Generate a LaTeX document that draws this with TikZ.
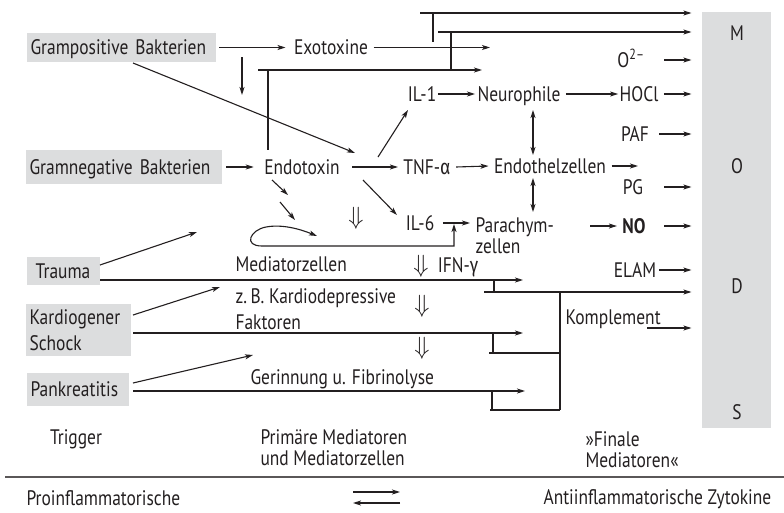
\documentclass[tikz,border=0pt]{standalone}
\usepackage{fontspec}
\setmainfont{PT Sans}[FakeStretch=0.83]
\newfontfamily\grfont{Fira Sans}[FakeStretch=0.83]
\usepackage{xcolor}
\usetikzlibrary{arrows.meta}
\usetikzlibrary{positioning}
\definecolor{boxgray}{HTML}{DCDDDE}
\definecolor{ink}{HTML}{231F20}

\begin{document}
\begin{tikzpicture}[x=1pt, y=-1pt, line width=1.1pt, color=ink,
    every node/.style={font=\fontsize{21}{21}\selectfont, inner xsep=5pt, inner ysep=0pt, text height=14.7pt, text depth=0pt},
    zwei/.style={text height=, text depth=, align=left, anchor=west},
    trigbox/.style={fill=boxgray, anchor=west, inner xsep=4pt, align=left},
    dpf/.style={font=\fontsize{32}{32}\selectfont},
    pfeil/.style={-{Stealth[length=8pt, width=5pt, inset=2pt]}},
    dpfeil/.style={{Stealth[length=8pt, width=5pt, inset=2pt]}-{Stealth[length=8pt, width=5pt, inset=2pt]}},
    zumods/.style={pfeil, shorten >=10pt}]
    \useasboundingbox (0,0) rectangle (784,512);

    \node[fill=boxgray, minimum width=69pt, minimum height=416pt] (mods) at (736.5,220) {};
    \node (mM) at (737,33) {M};
    \node (mO) at (737,166) {O};
    \node (mD) at (737,286) {D};
    \node (mS) at (737,412) {S};

    \node[trigbox, text width=181pt, minimum height=29pt] (gpos) at (26,47.5) {Grampositive Bakterien};
    \node[trigbox, text width=188pt, minimum height=34pt] (gneg) at (25,167) {Gramnegative Bakterien};
    \node[trigbox, text width=65pt, minimum height=28pt, align=center] (trauma) at (26,271) {Trauma};
    \node[trigbox, zwei, text width=97pt, minimum height=52pt, font=\fontsize{21}{26}\selectfont] (kardiog) at (25,330) {Kardiogener\\Schock};
    \node[trigbox, text width=94pt, minimum height=33pt] (pankr) at (26,389.5) {Pankreatitis};

    \node (exo) at (331,47.5) {Exotoxine};
    \node (endo) at (302,167) {Endotoxin};
    \node (tnf) at (427,167) {TNF-{\grfont α}};
    \node (endoth) at (550,166) {Endothelzellen};
    \node (il1) at (422,94) {IL-1};
    \node (neuro) at (519,94) {Neurophile};
    \node (hocl) at (639,94) {HOCl};
    \node (o2) at (631,60) {O\textsuperscript{2–}};
    \node (paf) at (635,134) {PAF};
    \node (pg) at (633,187) {PG};
    \node (il6) at (420,223) {IL-6};
    \node[zwei] (para) at (470,236) {Parachym-\\zellen};
    \node (no) at (634,226) {\textbf{NO}};
    \node (ifn) at (458,265) {IFN-{\grfont γ}};
    \node (elam) at (635,270) {ELAM};
    \node[anchor=west] (mz) at (230,264) {Mediatorzellen};
    \node[zwei, font=\fontsize{21}{26}\selectfont] (kdf) at (230,309) {z.\,B. Kardiodepressive\\Faktoren};
    \node[anchor=west] (gerinn) at (245,377) {Gerinnung u. Fibrinolyse};
    \node[anchor=west] (kompl) at (560,317) {Komplement};
    \node[dpf] (d1) at (356,217) {$\Downarrow$};
    \node[dpf] (d2) at (421,265) {$\Downarrow$};
    \node[dpf] (d3) at (422,305) {$\Downarrow$};
    \node[dpf] (d4) at (422,347) {$\Downarrow$};

    \node (trigger) at (76,437) {Trigger};
    \node[zwei] (prim) at (255,448) {Primäre Mediatoren\\und Mediatorzellen};
    \node[zwei] (final) at (580,450) {»Finale\\Mediatoren«};
    \node[anchor=west] (pro) at (21,498) {Proinflammatorische};
    \node[anchor=west] (anti) at (538,497) {Antiinflammatorische Zytokine};

    \coordinate (exoend) at (490,47.5);
    \coordinate (top1) at (420,13);
    \coordinate (top1a) at (433,13);
    \coordinate (top1b) at (433,42);
    \coordinate (top2) at (438,32);
    \coordinate (top2a) at (451,32);
    \coordinate (top2b) at (451,70);
    \coordinate (endoa) at (258,70);
    \coordinate (endob) at (268,70);
    \coordinate (endoc) at (268,150);
    \coordinate (endoend) at (482,70);
    \coordinate (gdowna) at (242,57);
    \coordinate (gdownb) at (242,95);
    \coordinate (gdiaga) at (133,63);
    \coordinate (gdiagb) at (355,153);
    \coordinate (tila) at (378,157);
    \coordinate (tilb) at (408,110);
    \coordinate (endothend) at (638,166);
    \coordinate (nea) at (533,110);
    \coordinate (neb) at (533,155);
    \coordinate (epa) at (533,178);
    \coordinate (epb) at (533,212);
    \coordinate (eia) at (363,180);
    \coordinate (eib) at (397,215);
    \coordinate (noa) at (590,226);
    \coordinate (ema) at (272,180);
    \coordinate (emb) at (288,195);
    \coordinate (emc) at (280,202);
    \coordinate (emd) at (295,220);
    \coordinate (loopa) at (317,236);
    \coordinate (loopb) at (262,246);
    \coordinate (loopc) at (454,246);
    \coordinate (loopd) at (454,224);
    \coordinate (tra) at (100,265);
    \coordinate (trb) at (197,232);
    \coordinate (trc) at (100,280);
    \coordinate (trd) at (523,280);
    \coordinate (kaa) at (133,315);
    \coordinate (kab) at (220,287);
    \coordinate (kac) at (133,333);
    \coordinate (kad) at (523,333);
    \coordinate (paa) at (133,383);
    \coordinate (pab) at (253,355);
    \coordinate (pac) at (133,391);
    \coordinate (pad) at (525,391);
    \coordinate (dta) at (494,280);
    \coordinate (dtb) at (494,292);
    \coordinate (dtc) at (484,292);
    \coordinate (kta) at (493,333);
    \coordinate (ktb) at (493,353);
    \coordinate (ktc) at (489,353);
    \coordinate (pta) at (492,391);
    \coordinate (ptb) at (492,410);
    \coordinate (ptc) at (490,410);
    \coordinate (kma) at (560,292);
    \coordinate (kmb) at (560,353);
    \coordinate (kmc) at (560,410);
    \coordinate (kompla) at (647,328);
    \coordinate (rula) at (5,477);
    \coordinate (rulb) at (784,477);
    \coordinate (gla) at (353,492);
    \coordinate (glb) at (400,492);
    \coordinate (glc) at (400,503);
    \coordinate (gld) at (353,503);

    \draw[pfeil] ([xshift=3pt]gpos.east) -- ([xshift=-3pt]exo.west);
    \draw[pfeil] (exo.east) -- (exoend);
    \draw[zumods] (top1) -- (top1 -| mods.west);
    \draw (top1a) -- (top1b);
    \draw[zumods] (top2) -- (top2 -| mods.west);
    \draw (top2a) -- (top2b);
    \draw[pfeil] (endoa) -- (endoend);
    \draw (endob) -- (endoc);
    \draw[pfeil] (gdowna) -- (gdownb);
    \draw[pfeil] (gdiaga) -- (gdiagb);

    \draw[pfeil] ([xshift=4pt]gneg.east) -- ([xshift=-5pt]endo.west);
    \draw[pfeil] ([xshift=7pt]endo.east) -- (tnf.west);
    \draw[pfeil] (tnf.east) -- (endoth.west);
    \draw[pfeil] (endoth.east) -- (endothend);
    \draw[pfeil] (tila) -- (tilb);
    \draw[pfeil] ([xshift=-4pt]il1.east) -- ([xshift=3pt]neuro.west);
    \draw[pfeil] (neuro.east) -- ([xshift=4pt]hocl.west);
    \draw[zumods] (hocl.east) -- (hocl -| mods.west);
    \draw[zumods] ([xshift=-37pt]o2 -| mods.west) -- (o2 -| mods.west);
    \draw[zumods] ([xshift=-42pt]paf -| mods.west) -- (paf -| mods.west);
    \draw[zumods] ([xshift=-37pt]pg -| mods.west) -- (pg -| mods.west);
    \draw[zumods] ([xshift=-37pt]no -| mods.west) -- (no -| mods.west);
    \draw[zumods] ([xshift=-42pt]elam -| mods.west) -- (elam -| mods.west);
    \draw[zumods] (kompla) -- (kompla -| mods.west);
    \draw[dpfeil] (nea) -- (neb);
    \draw[dpfeil] (epa) -- (epb);
    \draw[pfeil] (eia) -- (eib);
    \draw[pfeil] ([xshift=3pt]il6.east) -- (il6.east -| para.west);
    \draw[pfeil] (noa) -- (no.west);
    \draw[pfeil] (ema) -- (emb);
    \draw[pfeil] (emc) -- (emd);
    \draw[dpfeil] (loopa) .. controls (300,229) and (282,224) .. (266,227)
        .. controls (250,230) and (243,246) .. (loopb) -- (loopc) -- (loopd);

    \draw[pfeil] (tra) -- (trb);
    \draw[pfeil] (trc) -- (trd);
    \draw[pfeil] (kaa) -- (kab);
    \draw[pfeil] (kac) -- (kad);
    \draw[pfeil] (paa) -- (pab);
    \draw[pfeil] (pac) -- (pad);
    \draw (dta) -- (dtb);
    \draw[zumods] (dtc) -- (dtc -| mods.west);
    \draw (kta) -- (ktb);
    \draw (ktc) -- (kmb);
    \draw (pta) -- (ptb);
    \draw (ptc) -- (kmc);
    \draw (kma) -- (kmc);

    \draw[line width=1.5pt, color=ink!75] (rula) -- (rulb);
    \draw[pfeil] (gla) -- (glb);
    \draw[pfeil] (glc) -- (gld);
\end{tikzpicture}
\end{document}
